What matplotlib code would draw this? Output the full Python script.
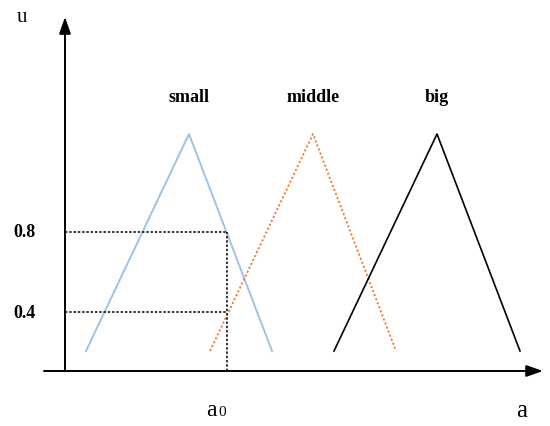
import matplotlib
matplotlib.use("Agg")
import matplotlib.pyplot as plt

plt.rcParams["font.family"] = ["Liberation Serif", "DejaVu Serif"]

###* DATA (schematic units: 1 unit = 100 px, origin at axes crossing)
small_a = [0.21, 1.24, 2.07]
middle_a = [1.45, 2.48, 3.31]
big_a = [2.69, 3.72, 4.55]
tri_u = [0.20, 2.37, 0.20]
names = ["small", "middle", "big"]

level_u = [1.39, 0.59]
level_labels = ["0.8", "0.4"]
a0 = 1.62

###* FIGURE
fig = plt.figure(figsize=(5.5, 4.27), dpi=100)
ax = fig.add_axes([0, 0, 1, 1])
ax.set_xlim(-0.65, 4.85)
ax.set_ylim(-0.55, 3.72)
ax.set_axis_off()

#* axes with arrows
ax.annotate("", xy=(4.78, 0), xytext=(-0.21, 0),
            arrowprops=dict(arrowstyle="-|>,head_length=1.0,head_width=0.35", color="black", lw=1.4, shrinkA=0, shrinkB=0))
ax.annotate("", xy=(0, 3.54), xytext=(0, 0),
            arrowprops=dict(arrowstyle="-|>,head_length=1.0,head_width=0.35", color="black", lw=1.4, shrinkA=0, shrinkB=0))

#* membership functions
ax.plot(small_a, tri_u, color="#9DC3E6", lw=1.4)
ax.plot(middle_a, tri_u, color="#ED7D31", lw=1.3, ls=(0, (1.2, 1.2)))
ax.plot(big_a, tri_u, color="black", lw=1.2)

for xs, name in zip([small_a, middle_a, big_a], names):
    ax.text(xs[1], 2.75, name, ha="center", va="center", fontsize=13, fontweight="bold")

#* dashed guide lines
for u, lab in zip(level_u, level_labels):
    ax.plot([0, a0], [u, u], color="black", lw=1.1, ls=(0, (1.6, 1.2)))
    ax.text(-0.41, u, lab, ha="center", va="center", fontsize=13, fontweight="bold")
ax.plot([a0, a0], [0, max(level_u)], color="black", lw=1.1, ls=(0, (1.6, 1.2)))

#* labels
ax.text(-0.43, 3.54, "u", ha="center", va="center", fontsize=15)
ax.text(a0 - 0.16, -0.39, "a", ha="center", va="center", fontsize=17)
ax.text(a0 - 0.05, -0.405, "0", ha="center", va="center", fontsize=11)
ax.text(4.57, -0.39, "a", ha="center", va="center", fontsize=18)

fig.savefig("out.png", dpi=100, facecolor="white")
